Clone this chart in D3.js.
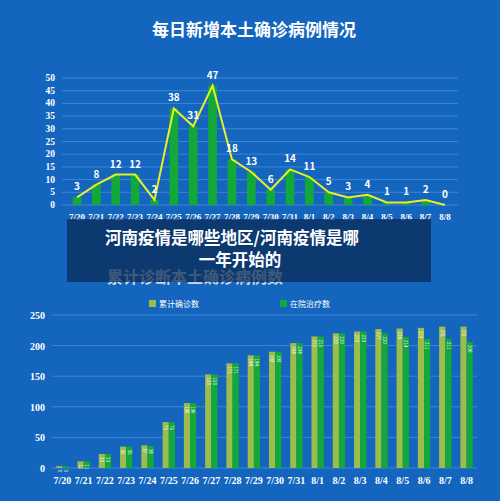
<!DOCTYPE html><html><head><meta charset="utf-8">
<script src="https://cdn.jsdelivr.net/npm/d3@7"></script>
<style>body{margin:0;background:#1465bd}svg{display:block}</style></head><body>
<svg id="c" width="500" height="501"></svg>
<script>
const dates=["7/20","7/21","7/22","7/23","7/24","7/25","7/26","7/27","7/28","7/29","7/30","7/31","8/1","8/2","8/3","8/4","8/5","8/6","8/7","8/8"];
const daily=[3,8,12,12,2,38,31,47,18,13,6,14,11,5,3,4,1,1,2,0];
const cumulative=[3,11,23,35,37,75,106,153,171,184,190,204,215,220,223,227,228,229,231,231];
const inHospital=[3,11,23,35,36,75,106,153,171,184,190,204,215,220,223,220,214,211,211,206];
const topTicks=[0,5,10,15,20,25,30,35,40,45,50];
const botTicks=[0,50,100,150,200,250];
const svg=d3.select("#c");
const F="'Noto Sans CJK SC',sans-serif", S="'Liberation Serif',serif";
svg.append("rect").attr("width",500).attr("height",501).attr("fill","#1465bd");
svg.append("text").attr("x",254).attr("y",36).attr("text-anchor","middle").attr("fill","#fff")
 .attr("font-family",F).attr("font-weight","bold").attr("font-size",17).text("每日新增本土确诊病例情况");
const x1=d3.scaleBand().domain(dates).range([62,460]).padding(0.55);
const y1=d3.scaleLinear().domain([0,50]).range([205,78]);
const g1=svg.append("g");
topTicks.forEach(t=>{g1.append("line").attr("x1",62).attr("x2",458).attr("y1",y1(t)).attr("y2",y1(t)).attr("stroke","#3d85d6").attr("stroke-width",1);
 g1.append("text").attr("x",55).attr("y",y1(t)+3).attr("text-anchor","end").attr("fill","#fff").attr("font-family",S).attr("font-weight","bold").attr("font-size",9.5).text(t);});
g1.selectAll(".b").data(daily).join("rect").attr("x",(d,i)=>x1(dates[i])).attr("width",x1.bandwidth()).attr("y",d=>y1(d)).attr("height",d=>y1(0)-y1(d)).attr("fill","#12a83a");
const cx=i=>x1(dates[i])+x1.bandwidth()/2;
g1.append("path").datum(daily).attr("d",d3.line().x((d,i)=>cx(i)).y(d=>y1(d))).attr("fill","none").attr("stroke","#e8f024").attr("stroke-width",2);
g1.selectAll(".l").data(daily).join("text").attr("x",(d,i)=>cx(i)).attr("y",d=>y1(d)-7).attr("text-anchor","middle").attr("fill","#fff").attr("font-family",F).attr("font-weight","bold").attr("font-size",10).text(d=>d);
g1.selectAll(".x").data(dates).join("text").attr("x",d=>x1(d)+x1.bandwidth()/2).attr("y",220).attr("text-anchor","middle").attr("fill","#fff").attr("font-family",S).attr("font-weight","bold").attr("font-size",9).text(d=>d);
svg.append("text").attr("x",195).attr("y",283).attr("text-anchor","middle").attr("fill","#c9d6e6").attr("font-family",F).attr("font-weight","bold").attr("font-size",16).text("累计诊断本土确诊病例数");
const x2=d3.scaleBand().domain(dates).range([52,477]).paddingInner(0.42).paddingOuter(0.2);
const y2=d3.scaleLinear().domain([0,250]).range([468,315]);
const g2=svg.append("g");
botTicks.forEach(t=>{g2.append("line").attr("x1",52).attr("x2",477).attr("y1",y2(t)).attr("y2",y2(t)).attr("stroke","#3d85d6");
 g2.append("text").attr("x",45).attr("y",y2(t)+4).attr("text-anchor","end").attr("fill","#fff").attr("font-family",S).attr("font-weight","bold").attr("font-size",10).text(t);});
const bw=x2.bandwidth()/2;
g2.selectAll(".c").data(cumulative).join("rect").attr("x",(d,i)=>x2(dates[i])).attr("width",bw).attr("y",d=>y2(d)).attr("height",d=>y2(0)-y2(d)).attr("fill","#9cbd4c");
g2.selectAll(".h").data(inHospital).join("rect").attr("x",(d,i)=>x2(dates[i])+bw).attr("width",bw).attr("y",d=>y2(d)).attr("height",d=>y2(0)-y2(d)).attr("fill","#12a83a");
[[cumulative,0],[inHospital,1]].forEach(([arr,k])=>g2.selectAll(".t"+k).data(arr).join("text").attr("transform",(d,i)=>`translate(${x2(dates[i])+bw*k+bw/2-1.7},${y2(d)+3}) rotate(90)`).attr("text-anchor","start").attr("fill","#fff").attr("font-family",F).attr("font-size",4.5).text(d=>d));
g2.selectAll(".x").data(dates).join("text").attr("x",d=>x2(d)+x2.bandwidth()/2).attr("y",484).attr("text-anchor","middle").attr("fill","#fff").attr("font-family",S).attr("font-weight","bold").attr("font-size",10).text(d=>d);
const leg=[["累计确诊数","#9cbd4c",149],["在院治疗数","#12a83a",280]];
leg.forEach(([t,c,x])=>{svg.append("rect").attr("x",x).attr("y",300).attr("width",7).attr("height",7).attr("fill",c);
 svg.append("text").attr("x",x+10).attr("y",307).attr("fill","#fff").attr("font-family",F).attr("font-size",8).text(t);});
svg.append("rect").attr("x",67).attr("y",219).attr("width",364).attr("height",63).attr("fill","rgba(10,40,80,0.72)");
svg.append("text").attr("x",232).attr("y",244).attr("text-anchor","middle").attr("fill","#fff").attr("font-family",F).attr("font-weight","bold").attr("font-size",16.5).text("河南疫情是哪些地区/河南疫情是哪");
svg.append("text").attr("x",240).attr("y",266).attr("text-anchor","middle").attr("fill","#fff").attr("font-family",F).attr("font-weight","bold").attr("font-size",16.5).text("一年开始的");
</script></body></html>
